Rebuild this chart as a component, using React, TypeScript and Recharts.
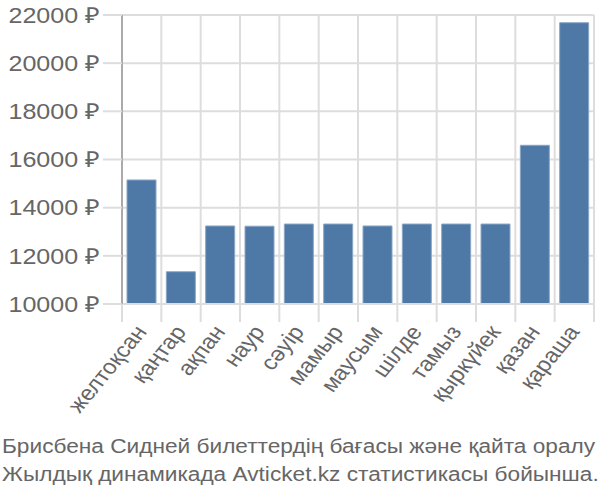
import React from "react";
import { BarChart, Bar, XAxis, YAxis, CartesianGrid } from "recharts";

const months = [
  "желтоқсан",
  "қаңтар",
  "ақпан",
  "наур",
  "сәуір",
  "мамыр",
  "маусым",
  "шілде",
  "тамыз",
  "қыркүйек",
  "қазан",
  "қараша"
];

const prices = [15150, 11340, 13240, 13230, 13320, 13320, 13240, 13320, 13320, 13320, 16590, 21680];

const yTicks = [10000, 12000, 14000, 16000, 18000, 20000, 22000];

const captionLines = [
  "Брисбена Сидней билеттердің бағасы және қайта оралу",
  "Жылдық динамикада Avticket.kz статистикасы бойынша."
];

const data = months.map((m, i) => ({ month: m, price: prices[i] }));

const FONT = "'Liberation Sans', Arial, sans-serif";
// the reference text looks a bit stretched sideways
const STRETCH = 1.14;

/* x tick: rotated label + boundary line below the axis */
function MonthTick(props: any) {
  const { x, y, payload, index } = props;
  const half = payload.offset || 0;
  return (
    <g>
      {index === 0 && (
        <line x1={x - half} y1={y} x2={x - half} y2={y + 18} stroke="#ddd" strokeWidth={2} />
      )}
      <line x1={x + half} y1={y} x2={x + half} y2={y + 18} stroke="#ddd" strokeWidth={2} />
      <text
        x={0}
        y={0}
        textAnchor="end"
        fill="#666"
        fontSize={21}
        fontFamily={FONT}
        transform={`translate(${x + 6} ${y + 28}) scale(${STRETCH} 1) rotate(-54)`}
      >
        {payload.value}
      </text>
    </g>
  );
}

function PriceTick(props: any) {
  const { x, y, payload } = props;
  return (
    <text
      x={0}
      y={0}
      dy="0.355em"
      textAnchor="end"
      fill="#666"
      fontSize={22}
      fontFamily={FONT}
      transform={`translate(${x} ${y}) scale(${STRETCH} 1)`}
    >
      {`${payload.value} ₽`}
    </text>
  );
}

export default function App() {
  return (
    <div style={{ position: "absolute", left: 0, top: 0, width: 600, height: 500, background: "#fff" }}>
      <BarChart
        width={600}
        height={430}
        data={data}
        margin={{ top: 15, right: 6, left: 0, bottom: 0 }}
        barCategoryGap={5}
      >
        <CartesianGrid
          stroke="#ddd"
          strokeWidth={2}
          verticalCoordinatesGenerator={({ offset }: any) =>
            months.map((_, i) => offset.left + ((i + 1) * offset.width) / months.length)
          }
        />
        <XAxis
          dataKey="month"
          interval={0}
          tickLine={false}
          axisLine={{ stroke: "#ddd", strokeWidth: 2 }}
          tickSize={0}
          tickMargin={0}
          height={126}
          tick={<MonthTick />}
        />
        <YAxis
          width={122}
          domain={[10000, 22000]}
          ticks={yTicks}
          allowDataOverflow
          axisLine={{ stroke: "#aaa", strokeWidth: 2 }}
          tickLine={{ stroke: "#ddd", strokeWidth: 2 }}
          tickSize={19}
          tickMargin={3}
          tick={<PriceTick />}
        />
        <Bar dataKey="price" fill="#4e79a7" stroke="#8aa6c6" strokeWidth={1} isAnimationActive={false} />
      </BarChart>
      <div
        style={{
          position: "absolute",
          left: 2,
          top: 432,
          fontFamily: FONT,
          fontSize: 20,
          lineHeight: "28px",
          color: "#666",
          whiteSpace: "nowrap",
          transform: "scaleX(1.133)",
          transformOrigin: "left top"
        }}
      >
        {captionLines.map((l) => (
          <div key={l}>{l}</div>
        ))}
      </div>
    </div>
  );
}
